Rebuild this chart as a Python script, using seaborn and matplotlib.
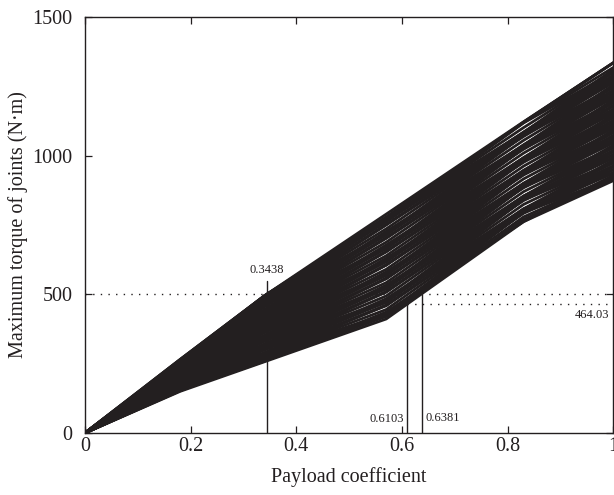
import numpy as np
import pandas as pd
import matplotlib
matplotlib.use("Agg")
import matplotlib.pyplot as plt
import seaborn as sns

# Payload coefficient breakpoints shared by every joint-torque curve
payload = [0.0, 0.18, 0.34, 0.57, 0.83, 1.0]

# Maximum joint torque (N·m) of each sampled configuration at the breakpoints
torque_curves = [
    [0, 150, 257, 411, 762, 910],
    [0, 153, 262, 420, 770, 918],
    [0, 156, 259, 436, 762, 930],
    [0, 154, 268, 430, 779, 925],
    [0, 152, 277, 423, 795, 919],
    [0, 157, 281, 426, 796, 940],
    [0, 161, 285, 429, 797, 960],
    [0, 161, 280, 445, 795, 949],
    [0, 160, 275, 461, 792, 937],
    [0, 163, 282, 460, 800, 951],
    [0, 165, 288, 459, 808, 964],
    [0, 168, 289, 472, 808, 974],
    [0, 171, 290, 484, 807, 984],
    [0, 169, 299, 478, 824, 979],
    [0, 167, 308, 471, 841, 974],
    [0, 172, 313, 474, 842, 994],
    [0, 176, 317, 477, 843, 1014],
    [0, 175, 312, 494, 841, 1003],
    [0, 174, 306, 510, 838, 991],
    [0, 177, 313, 509, 846, 1005],
    [0, 179, 319, 508, 854, 1019],
    [0, 183, 320, 521, 854, 1029],
    [0, 186, 321, 533, 853, 1038],
    [0, 184, 330, 527, 870, 1033],
    [0, 182, 339, 520, 887, 1028],
    [0, 187, 344, 523, 888, 1049],
    [0, 191, 348, 526, 889, 1069],
    [0, 190, 343, 542, 887, 1058],
    [0, 189, 337, 558, 884, 1046],
    [0, 192, 344, 557, 892, 1060],
    [0, 194, 350, 556, 900, 1073],
    [0, 198, 351, 569, 900, 1083],
    [0, 201, 352, 581, 899, 1093],
    [0, 199, 361, 575, 916, 1088],
    [0, 197, 370, 568, 933, 1083],
    [0, 201, 375, 571, 935, 1103],
    [0, 205, 379, 574, 936, 1123],
    [0, 205, 374, 590, 933, 1112],
    [0, 204, 368, 606, 930, 1100],
    [0, 207, 375, 606, 939, 1114],
    [0, 209, 382, 605, 947, 1128],
    [0, 212, 383, 618, 946, 1138],
    [0, 215, 383, 630, 945, 1148],
    [0, 213, 392, 624, 962, 1143],
    [0, 211, 401, 617, 979, 1137],
    [0, 216, 406, 620, 981, 1158],
    [0, 220, 410, 623, 982, 1178],
    [0, 219, 405, 639, 979, 1166],
    [0, 218, 399, 655, 976, 1154],
    [0, 221, 406, 654, 985, 1168],
    [0, 224, 413, 653, 993, 1182],
    [0, 227, 414, 666, 992, 1192],
    [0, 230, 414, 678, 991, 1202],
    [0, 228, 423, 672, 1009, 1197],
    [0, 226, 432, 665, 1026, 1191],
    [0, 231, 437, 668, 1027, 1212],
    [0, 235, 441, 671, 1028, 1232],
    [0, 234, 436, 688, 1026, 1221],
    [0, 233, 431, 704, 1023, 1209],
    [0, 236, 438, 703, 1031, 1223],
    [0, 238, 444, 702, 1039, 1237],
    [0, 242, 445, 715, 1038, 1247],
    [0, 245, 445, 727, 1037, 1256],
    [0, 243, 455, 721, 1055, 1251],
    [0, 241, 464, 714, 1072, 1246],
    [0, 246, 468, 717, 1073, 1267],
    [0, 250, 472, 719, 1074, 1287],
    [0, 249, 467, 736, 1072, 1276],
    [0, 248, 462, 752, 1069, 1264],
    [0, 251, 469, 751, 1077, 1278],
    [0, 253, 475, 750, 1085, 1291],
    [0, 257, 476, 763, 1084, 1301],
    [0, 260, 476, 775, 1083, 1311],
    [0, 258, 486, 769, 1101, 1306],
    [0, 256, 495, 762, 1118, 1301],
    [0, 260, 495, 765, 1119, 1318],
    [0, 264, 495, 768, 1120, 1335],
    [0, 265, 495, 779, 1121, 1335],
    [0, 265, 495, 789, 1122, 1335],
]

# Threshold torque levels and the payload coefficients where they are reached
torque_limit = 500.0
torque_reduced = 464.03
payload_upper = 0.3438
payload_lower_reduced = 0.6103
payload_lower = 0.6381
marker_top = 548.0

xtick_values = [0, 0.2, 0.4, 0.6, 0.8, 1.0]
xtick_labels = ["0", "0.2", "0.4", "0.6", "0.8", "1"]
ytick_values = [0, 500, 1000, 1500]
ytick_labels = ["0", "500", "1000", "1500"]

INK = "#231f20"

sns.set_theme(style="ticks")
plt.rcParams["font.family"] = ["Liberation Serif", "DejaVu Serif"]
plt.rcParams.update({
    "xtick.direction": "in",
    "ytick.direction": "in",
    "xtick.top": True,
    "ytick.right": True,
    "axes.edgecolor": INK,
    "axes.linewidth": 1.0,
    "xtick.color": INK,
    "ytick.color": INK,
    "text.color": INK,
    "axes.labelcolor": INK,
})

rows = []
for run, curve in enumerate(torque_curves):
    for x, y in zip(payload, curve):
        rows.append({"run": run, "payload": x, "torque": y})
df = pd.DataFrame(rows)

fig = plt.figure(figsize=(6.14, 4.95), dpi=100)
ax = fig.add_axes([0.1384, 0.1253, 0.8606, 0.8404])

sns.lineplot(data=df, x="payload", y="torque", units="run", estimator=None,
             color=INK, linewidth=2.0, ax=ax, legend=False)

# Reference torque levels
ax.plot([0, 1], [torque_limit, torque_limit], color=INK, lw=1.0,
        linestyle=(0, (1, 4.5)))
ax.plot([payload_lower_reduced, 1], [torque_reduced, torque_reduced],
        color=INK, lw=1.0, linestyle=(0, (1, 4.5)))

# Payload markers
ax.plot([payload_upper, payload_upper], [0, marker_top], color=INK, lw=1.0)
ax.plot([payload_lower_reduced, payload_lower_reduced], [0, torque_reduced],
        color=INK, lw=1.0)
ax.plot([payload_lower, payload_lower], [0, torque_limit], color=INK, lw=1.0)

ax.text(payload_upper, marker_top + 18, f"{payload_upper:.4f}", ha="center",
        va="bottom", fontsize=9)
ax.text(payload_lower_reduced - 0.006, 50, f"{payload_lower_reduced:.4f}",
        ha="right", va="center", fontsize=9)
ax.text(payload_lower + 0.007, 55, f"{payload_lower:.4f}", ha="left",
        va="center", fontsize=9)
ax.text(0.993, torque_reduced - 40, f"{torque_reduced:.2f}", ha="right",
        va="center", fontsize=9)

ax.set_xlim(0, 1)
ax.set_ylim(0, 1500)
ax.set_xticks(xtick_values)
ax.set_xticklabels(xtick_labels)
ax.set_yticks(ytick_values)
ax.set_yticklabels(ytick_labels)
ax.tick_params(axis="both", labelsize=14.5, length=5, width=0.9)
ax.tick_params(axis="x", pad=3)
ax.tick_params(axis="y", pad=9)

ax.set_xlabel("Payload coefficient", fontsize=14.5, labelpad=8)
ax.set_ylabel("Maximum torque of joints (N·m)", fontsize=14.5, labelpad=3)

fig.savefig("out.png", dpi=100)
